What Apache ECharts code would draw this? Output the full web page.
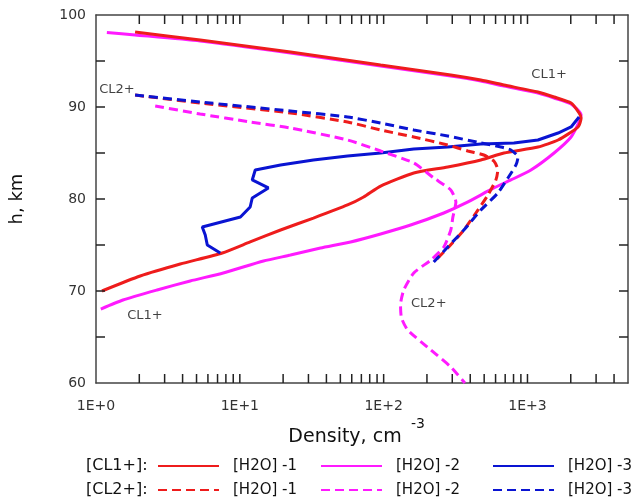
<!DOCTYPE html>
<html><head><meta charset="utf-8">
<script src="https://cdn.jsdelivr.net/npm/echarts@6/dist/echarts.min.js"></script>
<style>html,body{margin:0;padding:0;background:#fff}#c{width:631px;height:504px}</style>
</head><body><div id="c"></div>
<script>
const FONT = 'DejaVu Sans';
// tick labels / tick positions
const xLabelTicks = [1, 10, 100, 1000];
const xTickValues = [2,3,4,5,6,7,8,9,10,20,30,40,50,60,70,80,90,100,200,300,400,500,600,700,800,900,1000,2000,3000,4000];
const yTickValues = [65, 70, 75, 80, 85, 90, 95];
const yLabelTicks = [60, 70, 80, 90, 100];

// [density (cm^-3), height (km)]
const cl1_h2o1 = [[1.1,70.0],[2.03,71.63],[3.85,72.93],[7.55,74.13],[11.8,75.33],[19.2,76.63],[32.5,77.93],[56.1,79.35],[72.6,80.22],[95.3,81.41],[162,82.83],[279,83.48],[474,84.24],[686,85.0],[1183,85.65],[1632,86.41],[2249,87.83],[2360,88.8],[2285,89.35],[2010,90.43],[1531,91.09],[1183,91.63],[686,92.39],[474,92.93],[293,93.48],[95.3,94.57],[22.5,95.98],[5.3,97.28],[1.87,98.15]];
const cl1_h2o2 = [[1.08,68.04],[1.54,69.02],[2.66,70.11],[4.52,71.09],[7.67,71.96],[14.6,73.26],[22.5,73.91],[36.4,74.67],[58.9,75.33],[95.3,76.2],[154,77.17],[262,78.48],[373,79.57],[584,81.2],[767,82.07],[1057,83.15],[1531,85.0],[2010,86.74],[2285,88.37],[2360,89.13],[2010,90.33],[1531,90.98],[1183,91.52],[686,92.28],[474,92.83],[293,93.37],[95.3,94.46],[22.5,95.87],[5.3,97.17],[1.87,97.83],[1.19,98.1]];
const cl1_h2o3 = [[7.31,74.13],[5.94,75.0],[5.75,76.09],[5.48,76.96],[10.1,78.04],[11.8,79.13],[12.2,80.11],[15.8,81.2],[12.2,82.07],[12.8,83.15],[19.2,83.7],[32.5,84.24],[56.1,84.67],[95.3,85.0],[162,85.43],[279,85.65],[474,85.98],[805,86.09],[1183,86.41],[1632,87.17],[2010,87.83],[2285,88.91]];
const cl2_h2o1 = [[1.87,91.3],[5.3,90.43],[22.5,89.35],[56.1,88.37],[95.3,87.5],[162,86.74],[279,85.87],[385,85.22],[497,84.78],[584,84.13],[622,83.15],[603,82.07],[531,80.43],[452,78.8],[361,76.63],[279,74.67],[223,73.15]];
const cl2_h2o2 = [[2.58,90.11],[5.3,89.24],[11.8,88.37],[22.5,87.72],[56.1,86.41],[95.3,85.22],[162,83.91],[223,82.28],[293,80.98],[318,79.67],[303,78.04],[293,76.63],[262,74.78],[213,73.37],[162,71.96],[138,70.11],[131,68.48],[133,67.07],[147,65.76],[213,63.59],[293,61.74],[367,60.0]];
const cl2_h2o3 = [[1.87,91.3],[5.3,90.54],[22.5,89.57],[56.1,88.91],[95.3,88.26],[162,87.5],[279,86.85],[474,86.09],[654,85.65],[767,85.33],[860,84.57],[832,83.7],[731,82.28],[622,80.65],[474,78.8],[361,76.63],[279,74.78],[223,73.15]];

const annotations = [
  { text: 'CL1+', value: [1413, 93.48] },
  { text: 'CL2+', value: [1.4, 91.85] },
  { text: 'CL1+', value: [2.19, 67.28] },
  { text: 'CL2+', value: [206, 68.59] }
];

const RED = '#ee1c1c', MAG = '#ff1aff', BLUE = '#0a14d2';
const AX = '#444';
const TICK_COLOR = '#222';
const X_MIN = 1, X_MAX = 5000, Y_MIN = 60, Y_MAX = 100;
const TICK = 9;

function lineSeries(name, data, color, dashed, smooth) {
  return {
    name, type: 'line', data, showSymbol: false, symbol: 'none', smooth: smooth,
    lineStyle: { color, width: 3, type: dashed ? [9, 5] : 'solid' },
    itemStyle: { color }, animation: false, clip: true, z: 4
  };
}

function tickLine(x1, y1, x2, y2) {
  return { type: 'line', shape: { x1, y1, x2, y2 }, style: { stroke: TICK_COLOR, lineWidth: 1.5 } };
}

const baseX = {
  type: 'log', logBase: 10, min: X_MIN, max: X_MAX,
  axisLine: { show: true, lineStyle: { color: AX, width: 1.5 } },
  axisTick: { show: false },
  splitLine: { show: false }
};
const baseY = {
  type: 'value', min: Y_MIN, max: Y_MAX, interval: 5,
  axisLine: { show: true, lineStyle: { color: AX, width: 1.5 } },
  axisTick: { show: false },
  splitLine: { show: false }
};

function legendColumn(names, left) {
  return {
    data: names, orient: 'vertical', left, top: 457, padding: 0,
    itemWidth: 61, itemHeight: 18, itemGap: 6,
    itemStyle: { opacity: 0 },
    formatter: n => n.replace(/^CL\d\+ /, ''),
    textStyle: { fontSize: 15, lineHeight: 18, color: '#111', fontFamily: FONT, padding: [0, 0, 0, 9] }
  };
}

const chart = echarts.init(document.getElementById('c'), null, { renderer: 'canvas' });
chart.setOption({
  animation: false,
  backgroundColor: '#fff',
  grid: { left: 96, right: 3, top: 15, bottom: 121, containLabel: false },
  xAxis: [
    Object.assign({}, baseX, {
      position: 'bottom',
      axisLabel: { show: true, customValues: xLabelTicks, formatter: v => '1E+' + Math.round(Math.log10(v)), margin: 16, fontSize: 14, color: '#333', fontFamily: FONT },
      name: 'Density, cm', nameLocation: 'middle', nameGap: 45,
      nameTextStyle: { fontSize: 19, color: '#111', fontFamily: FONT, padding: [0, 34, 0, 0] }
    }),
    Object.assign({}, baseX, { position: 'top', axisLabel: { show: false } })
  ],
  yAxis: [
    Object.assign({}, baseY, {
      position: 'left',
      axisLabel: { show: true, formatter: v => (yLabelTicks.indexOf(v) >= 0 ? String(v) : ''), margin: 10, fontSize: 14, color: '#333', fontFamily: FONT },
      name: 'h, km', nameLocation: 'middle', nameGap: 70,
      nameTextStyle: { fontSize: 18, color: '#111', fontFamily: FONT }
    }),
    Object.assign({}, baseY, { position: 'right', axisLabel: { show: false } })
  ],
  legend: [
    legendColumn(['CL1+ [H2O] -1', 'CL2+ [H2O] -1'], 157),
    legendColumn(['CL1+ [H2O] -2', 'CL2+ [H2O] -2'], 320),
    legendColumn(['CL1+ [H2O] -3', 'CL2+ [H2O] -3'], 492)
  ],
  graphic: [
    { type: 'text', left: 86, top: 458, style: { text: '[CL1+]:', fontSize: 16, fill: '#111', fontFamily: FONT } },
    { type: 'text', left: 86, top: 482, style: { text: '[CL2+]:', fontSize: 16, fill: '#111', fontFamily: FONT } },
    { type: 'text', left: 411, top: 417, style: { text: '-3', fontSize: 14, fill: '#111', fontFamily: FONT } }
  ],
  series: [
    {
      name: 'xticks', type: 'custom', z: 6,
      data: xTickValues.map(v => [v, Y_MIN]),
      renderItem: (params, api) => {
        const v = api.value(0);
        const b = api.coord([v, Y_MIN]);
        const t = api.coord([v, Y_MAX]);
        return { type: 'group', children: [tickLine(b[0], b[1], b[0], b[1] - TICK), tickLine(t[0], t[1], t[0], t[1] + TICK)] };
      }
    },
    {
      name: 'yticks', type: 'custom', z: 6,
      data: yTickValues.map(h => [X_MIN, h]),
      renderItem: (params, api) => {
        const h = api.value(1);
        const l = api.coord([X_MIN, h]);
        const r = api.coord([X_MAX, h]);
        return { type: 'group', children: [tickLine(l[0], l[1], l[0] + TICK, l[1]), tickLine(r[0], r[1], r[0] - TICK, r[1])] };
      }
    },
    lineSeries('CL1+ [H2O] -2', cl1_h2o2, MAG, false, 0.2),
    lineSeries('CL1+ [H2O] -1', cl1_h2o1, RED, false, 0.2),
    lineSeries('CL1+ [H2O] -3', cl1_h2o3, BLUE, false, false),
    lineSeries('CL2+ [H2O] -2', cl2_h2o2, MAG, true, 0.2),
    lineSeries('CL2+ [H2O] -1', cl2_h2o1, RED, true, 0.2),
    lineSeries('CL2+ [H2O] -3', cl2_h2o3, BLUE, true, 0.2),
    {
      name: 'annotations', type: 'scatter', symbolSize: 1, itemStyle: { color: 'rgba(0,0,0,0)' },
      data: annotations.map(a => ({ value: a.value, name: a.text })),
      label: { show: true, position: 'inside', formatter: p => p.name, fontSize: 13, color: '#111', fontFamily: FONT },
      silent: true, z: 5
    }
  ]
});
</script>
</body></html>
